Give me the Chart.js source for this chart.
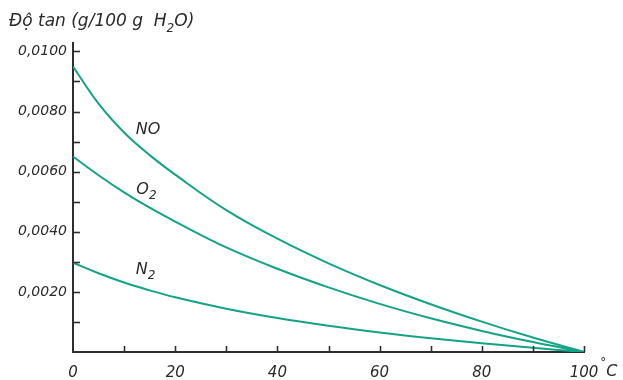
<!DOCTYPE html>
<html><head><meta charset="utf-8">
<script src="https://cdn.jsdelivr.net/npm/chart.js@4/dist/chart.umd.min.js"></script>
<style>html,body{margin:0;padding:0;background:#fff}#wrap{width:623px;height:380px;position:relative}</style>
</head><body><div id="wrap"><canvas id="c"></canvas></div>
<script>
// ---- data ----
const temperatures = [0, 5, 10, 15, 20, 30, 40, 50, 60, 70, 80, 90, 100];
const solubilityNO = [0.0095, 0.00826, 0.0073, 0.00655, 0.0059, 0.00472, 0.00377, 0.00295, 0.00223, 0.00159, 0.00101, 0.00048, 0];
const solubilityO2 = [0.0065, 0.00588, 0.00531, 0.0048, 0.00434, 0.00348, 0.00277, 0.00215, 0.0016, 0.00112, 0.0007, 0.00033, 0];
const solubilityN2 = [0.00297, 0.00262, 0.00231, 0.00205, 0.00182, 0.00144, 0.00113, 0.00087, 0.00065, 0.00046, 0.00029, 0.00014, 0];

const xTickValues = [0, 20, 40, 60, 80, 100];
const xTickLabels = ['0', '20', '40', '60', '80', '100'];
const xMinorValues = [10, 30, 50, 70, 90];
const yTickValues = [0.002, 0.004, 0.006, 0.008, 0.010];
const yTickLabels = ['0,0020', '0,0040', '0,0060', '0,0080', '0,0100'];
const yMinorValues = [0.001, 0.003, 0.005, 0.007, 0.009];

const seriesNames = ['NO', 'O', 'N'];
const seriesSubs = ['', '2', '2'];
const labelX = [12.3, 12.4, 12.3];
const labelY = [0.00739, 0.0054, 0.00274];

const titleParts = [['Độ tan (g/100 g  H', false], ['2', true], ['O)', false]];
const unitText = 'C';

const lineColor = '#14a386';
const axisColor = '#2e2e2e';
const textColor = '#2a2a2a';
const TICKFONT = 'oblique 15px "DejaVu Sans"';
const BIGFONT = 'oblique 16px "DejaVu Sans"';
const SUBFONT = 'oblique 12px "DejaVu Sans"';

function pts(arr){ return temperatures.map((t,i)=>({x:t, y:arr[i]})); }

function drawParts(ctx, parts, x, y, font){
  let cx = x;
  parts.forEach(([t, sub]) => {
    ctx.font = sub ? SUBFONT : font;
    ctx.fillText(t, cx, sub ? y + 6 : y);
    cx += ctx.measureText(t).width;
  });
  return cx;
}

const decor = {
  id: 'decor',
  afterDraw(chart){
    const {ctx, chartArea: a, scales: {x, y}} = chart;
    ctx.save();
    ctx.strokeStyle = axisColor; ctx.lineWidth = 1.6;
    [...yTickValues, ...yMinorValues].forEach(v => {
      const py = Math.round(y.getPixelForValue(v)) + 0.5;
      ctx.beginPath(); ctx.moveTo(a.left, py); ctx.lineTo(a.left + 7, py); ctx.stroke();
    });
    [...xTickValues, ...xMinorValues].forEach(v => {
      if (v <= 0) return;
      const px = Math.round(x.getPixelForValue(v)) + 0.5;
      ctx.beginPath(); ctx.moveTo(px, a.bottom); ctx.lineTo(px, a.bottom - 6); ctx.stroke();
    });
    ctx.fillStyle = textColor;
    ctx.textBaseline = 'middle';
    ctx.textAlign = 'left';
    seriesNames.forEach((n, i) => {
      const cx = x.getPixelForValue(labelX[i]);
      const cy = y.getPixelForValue(labelY[i]);
      drawParts(ctx, [[n, false], [seriesSubs[i], true]], cx, cy, BIGFONT);
    });
    // title
    ctx.textBaseline = 'alphabetic';
    drawParts(ctx, titleParts, 9, 26, 'oblique 17px "DejaVu Sans"');
    // degree C after 100
    ctx.textBaseline = 'middle';
    ctx.font = TICKFONT;
    const lastLbl = xTickLabels[xTickLabels.length - 1];
    const lx = x.getPixelForValue(xTickValues[xTickValues.length - 1]) + ctx.measureText(lastLbl).width / 2 + 1;
    ctx.font = SUBFONT;
    ctx.fillText('°', lx + 1, 363);
    const dw = ctx.measureText('°').width;
    ctx.font = 'oblique 16px "DejaVu Sans"';
    ctx.fillText(unitText, lx + dw + 1, 372);
    ctx.restore();
  }
};

new Chart(document.getElementById('c'), {
  type: 'line',
  data: {
    datasets: [
      {label: 'NO', data: pts(solubilityNO)},
      {label: 'O2', data: pts(solubilityO2)},
      {label: 'N2', data: pts(solubilityN2)}
    ].map(d => Object.assign(d, {borderColor: lineColor, borderWidth: 2, pointRadius: 0, fill: false, tension: 0.4}))
  },
  options: {
    responsive: true, maintainAspectRatio: false, animation: false,
    layout: {padding: {left: 0, right: 39, top: 43, bottom: 0}},
    plugins: {legend: {display: false}, tooltip: {enabled: false}, title: {display: false}},
    scales: {
      x: {
        type: 'linear', min: 0, max: 100,
        afterBuildTicks: s => { s.ticks = xTickValues.map(v => ({value: v})); },
        afterFit: s => { s.height = 28; },
        grid: {display: false, drawTicks: false},
        border: {display: true, color: axisColor, width: 2},
        ticks: {autoSkip: false, maxRotation: 0, padding: 12, color: textColor, font: {family: 'DejaVu Sans', size: 15, style: 'oblique'},
          callback: (v) => { const i = xTickValues.indexOf(v); return i >= 0 ? xTickLabels[i] : ''; }}
      },
      y: {
        type: 'linear', min: 0, max: 0.01028,
        afterBuildTicks: s => { s.ticks = yTickValues.map(v => ({value: v})); },
        afterFit: s => { s.width = 73; },
        grid: {display: false, drawTicks: false},
        border: {display: true, color: axisColor, width: 2},
        ticks: {autoSkip: false, padding: 6, color: textColor, font: {family: 'DejaVu Sans', size: 14, style: 'oblique'},
          callback: (v) => { const i = yTickValues.findIndex(t => Math.abs(t - v) < 1e-9); return i >= 0 ? yTickLabels[i] : ''; }}
      }
    }
  },
  plugins: [decor]
});
</script></body></html>
